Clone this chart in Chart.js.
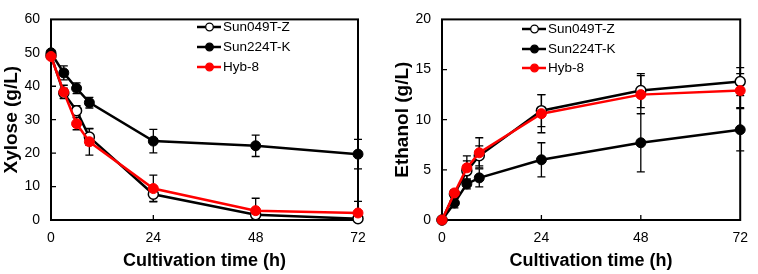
<!DOCTYPE html>
<html><head><meta charset="utf-8">
<script src="https://cdn.jsdelivr.net/npm/chart.js@4/dist/chart.umd.min.js"></script>
<style>
html,body{margin:0;padding:0;background:#fff;}
#wrap{position:relative;width:758px;height:274px;overflow:hidden;background:#fff;}
canvas{position:absolute;top:0;}
</style></head><body>
<div id="wrap">
<canvas id="c1" width="380" height="274" style="left:0px"></canvas>
<canvas id="c2" width="378" height="274" style="left:380px"></canvas>
</div>
<script>
// ---- data ----
const times = [0, 3, 6, 9, 24, 48, 72];
const seriesNames = ['Sun049T-Z', 'Sun224T-K', 'Hyb-8'];
const xTicks = [0, 24, 48, 72];
const xyloseTicks = [0, 10, 20, 30, 40, 50, 60];
const ethanolTicks = [0, 5, 10, 15, 20];

const xylose049 = [49.2, 37.9, 32.7, 24.8, 7.7, 1.6, 0.4];
const xylose049Err = [0.5, 1.5, 1.5, 2.5, 2.1, 1.0, 1.0];
const xylose224 = [50.0, 44.0, 39.4, 35.1, 23.6, 22.2, 19.7];
const xylose224Err = [0.5, 2.1, 1.6, 1.6, 3.5, 3.2, 4.4];
const xyloseHyb = [48.9, 38.3, 28.8, 23.4, 9.4, 2.8, 2.1];
const xyloseHybErr = [0.5, 2.0, 1.8, 4.0, 4.0, 3.7, 3.5];

const ethanol049 = [0, 2.6, 4.9, 6.4, 10.9, 12.9, 13.8];
const ethanol049Err = [0.1, 0.3, 1.0, 1.0, 1.6, 1.7, 1.4];
const ethanol224 = [0, 1.7, 3.6, 4.2, 6.0, 7.7, 9.0];
const ethanol224Err = [0.1, 0.5, 0.5, 0.9, 1.7, 2.9, 2.1];
const ethanolHyb = [0, 2.7, 5.2, 6.7, 10.6, 12.5, 12.9];
const ethanolHybErr = [0.1, 0.3, 1.2, 1.5, 1.9, 1.9, 1.7];

// ---- styling helpers ----
const FONT = "'Liberation Sans', Arial, sans-serif";
const styles = [
  {border: '#000', bg: '#fff', pbw: 1.5, order: 2},
  {border: '#000', bg: '#000', pbw: 1, order: 1},
  {border: '#ff0000', bg: '#ff0000', pbw: 1, order: 0}
];

function makeDatasets(vals, errs) {
  return vals.map((v, i) => ({
    label: seriesNames[i],
    data: times.map((t, j) => ({x: t, y: v[j]})),
    errors: errs[i],
    borderColor: styles[i].border,
    backgroundColor: styles[i].bg,
    pointBackgroundColor: styles[i].bg,
    pointBorderColor: i === 2 ? '#ff0000' : '#000',
    pointBorderWidth: styles[i].pbw,
    pointRadius: 5,
    borderWidth: 2.5,
    tension: 0,
    clip: false,
    order: styles[i].order
  }));
}

const errorBarPlugin = {
  id: 'errorBars',
  beforeDatasetsDraw(chart) {
    const ctx = chart.ctx, xs = chart.scales.x, ys = chart.scales.y;
    ctx.save();
    ctx.strokeStyle = '#000';
    ctx.lineWidth = 1.3;
    chart.data.datasets.forEach(ds => {
      ds.data.forEach((p, j) => {
        const e = ds.errors[j];
        const x = xs.getPixelForValue(p.x);
        const y1 = ys.getPixelForValue(p.y + e);
        const y2 = ys.getPixelForValue(Math.max(0, p.y - e));
        ctx.beginPath();
        ctx.moveTo(x, y1); ctx.lineTo(x, y2);
        ctx.moveTo(x - 4, y1); ctx.lineTo(x + 4, y1);
        if (p.y - e > 0) { ctx.moveTo(x - 4, y2); ctx.lineTo(x + 4, y2); }
        ctx.stroke();
      });
    });
    ctx.restore();
  }
};

const framePlugin = {
  id: 'frame',
  beforeDatasetsDraw(chart) {
    const ctx = chart.ctx, a = chart.chartArea, xs = chart.scales.x, ys = chart.scales.y;
    ctx.save();
    ctx.strokeStyle = '#000';
    ctx.lineWidth = 2;
    ctx.strokeRect(a.left, a.top, a.right - a.left, a.bottom - a.top);
    ctx.lineWidth = 1.3;
    ctx.beginPath();
    ys.ticks.forEach(t => {
      if (t.value === ys.min || t.value === ys.max) return;
      const y = ys.getPixelForValue(t.value);
      ctx.moveTo(a.left, y); ctx.lineTo(a.left + 5, y);
    });
    xs.ticks.forEach(t => {
      if (t.value === xs.min || t.value === xs.max) return;
      const x = xs.getPixelForValue(t.value);
      ctx.moveTo(x, a.bottom); ctx.lineTo(x, a.bottom - 5);
    });
    ctx.stroke();
    ctx.restore();
  }
};

const legendPlugin = {
  id: 'customLegend',
  afterDraw(chart, args, opts) {
    const ctx = chart.ctx;
    ctx.save();
    ctx.font = '13.5px ' + FONT;
    ctx.textBaseline = 'middle';
    ctx.textAlign = 'left';
    chart.data.datasets.forEach((ds, i) => {
      const y = opts.rows[i];
      const x0 = opts.x, x1 = opts.x + 24, xm = opts.x + 12.5;
      ctx.strokeStyle = ds.borderColor;
      ctx.lineWidth = 2.5;
      ctx.beginPath(); ctx.moveTo(x0, y); ctx.lineTo(x1, y); ctx.stroke();
      ctx.beginPath(); ctx.arc(xm, y, 3.8, 0, Math.PI * 2);
      ctx.fillStyle = ds.pointBackgroundColor; ctx.fill();
      ctx.lineWidth = 1.3; ctx.strokeStyle = ds.pointBorderColor; ctx.stroke();
      ctx.fillStyle = '#000';
      ctx.fillText(ds.label, x1 + 2, y);
    });
    ctx.restore();
  }
};

function makeChart(id, vals, errs, yTicks, yTitle, pad, yWidth, legendPos) {
  return new Chart(document.getElementById(id), {
    type: 'line',
    data: {datasets: makeDatasets(vals, errs)},
    plugins: [errorBarPlugin, framePlugin, legendPlugin],
    options: {
      responsive: false,
      animation: false,
      devicePixelRatio: 1,
      layout: {padding: pad},
      plugins: {
        legend: {display: false},
        tooltip: {enabled: false},
        customLegend: legendPos
      },
      scales: {
        x: {
          type: 'linear', min: xTicks[0], max: xTicks[xTicks.length - 1],
          afterBuildTicks: s => { s.ticks = xTicks.map(v => ({value: v})); },
          afterFit: s => { s.height = 54; },
          grid: {display: false, drawTicks: false},
          border: {display: false},
          ticks: {color: '#000', font: {family: FONT, size: 14}, padding: 10, maxRotation: 0},
          title: {display: true, text: 'Cultivation time (h)', color: '#000',
                  font: {family: FONT, size: 18, weight: 'bold'}, padding: {top: 0, bottom: 2}}
        },
        y: {
          type: 'linear', min: yTicks[0], max: yTicks[yTicks.length - 1],
          afterBuildTicks: s => { s.ticks = yTicks.map(v => ({value: v})); },
          afterFit: s => { s.width = yWidth; },
          grid: {display: false, drawTicks: false},
          border: {display: false},
          ticks: {color: '#000', font: {family: FONT, size: 14}, padding: 11},
          title: {display: true, text: yTitle, color: '#000',
                  font: {family: FONT, size: 19, weight: 'bold'}, padding: {top: 0, bottom: 0}}
        }
      }
    }
  });
}

makeChart('c1', [xylose049, xylose224, xyloseHyb], [xylose049Err, xylose224Err, xyloseHybErr],
  xyloseTicks, 'Xylose (g/L)', {left: 0, right: 22, top: 6, bottom: 0}, 51,
  {x: 197, rows: [27, 47, 67]});
makeChart('c2', [ethanol049, ethanol224, ethanolHyb], [ethanol049Err, ethanol224Err, ethanolHybErr],
  ethanolTicks, 'Ethanol (g/L)', {left: 11, right: 9, top: 6, bottom: 0}, 51,
  {x: 142, rows: [29, 49, 68]});
</script>
</body></html>
